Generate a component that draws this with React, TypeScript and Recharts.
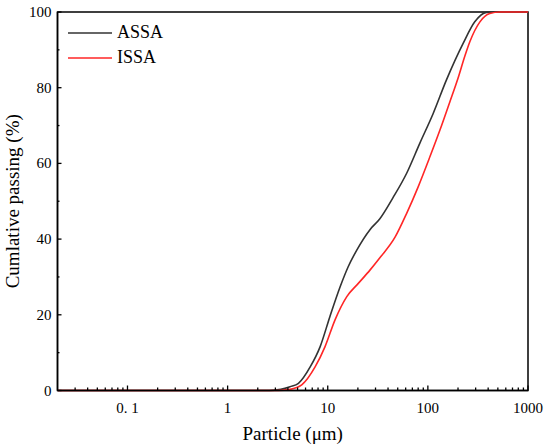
import { Legend, Line, LineChart, ReferenceArea, XAxis, YAxis } from "recharts";

// particle size distribution
const assaSize = [0.02, 2.6, 3.4, 4.2, 5.1, 6.7, 8.4, 10.5, 13.3, 16, 19.5, 26.4, 33, 45, 61.4, 83, 113, 153, 225, 294, 385, 450, 1000];
const assaPassing = [0, 0, 0.3, 1, 1.9, 6.3, 11.6, 19.5, 27.4, 32.7, 37.1, 42.5, 45.3, 51, 57.4, 65.3, 73.2, 82, 91.7, 97.4, 99.9, 100, 100];

const issaSize = [0.02, 3.2, 4.2, 5.5, 7.5, 9.4, 11.8, 15.5, 20.2, 26.4, 33, 47, 61.4, 80, 105, 132, 166, 200, 235, 263, 331, 415, 525, 1000];
const issaPassing = [0, 0, 0.3, 1.5, 6.3, 11.6, 18.6, 24.8, 28.3, 31.8, 35, 40.5, 46.8, 53.8, 61.8, 68.8, 76.3, 82.5, 88.5, 92.2, 97.4, 99.6, 100, 100];

const xMajorTicks = [0.1, 1, 10, 100, 1000];
const xMinorTicks = [
  0.03, 0.04, 0.05, 0.06, 0.07, 0.08, 0.09,
  0.2, 0.3, 0.4, 0.5, 0.6, 0.7, 0.8, 0.9,
  2, 3, 4, 5, 6, 7, 8, 9,
  20, 30, 40, 50, 60, 70, 80, 90,
  200, 300, 400, 500, 600, 700, 800, 900
];
const yMajorTicks = [0, 20, 40, 60, 80, 100];
const yMinorTicks = [10, 30, 50, 70, 90];

const FONT = "'Liberation Serif', 'Times New Roman', serif";

const toPoints = (sizes: number[], values: number[]) =>
  sizes.map((size, i) => ({ size, value: values[i] }));

const assaData = toPoints(assaSize, assaPassing);
const issaData = toPoints(issaSize, issaPassing);

const series = [
  { name: "ASSA", color: "#333333" },
  { name: "ISSA", color: "#ff2626" }
];

// x ticks point up into the plot; only decades get a label ("0. 1" as in the original)
function XTick(props: any) {
  const { x, y, payload } = props;
  const major = xMajorTicks.includes(payload.value);
  const text = payload.value === 0.1 ? "0. 1" : String(payload.value);
  return (
    <g>
      <line x1={x} x2={x} y1={y} y2={y - (major ? 5 : 3)} stroke="#000" strokeWidth={1.3} />
      {major && (
        <text x={x} y={y + 22} textAnchor="middle" fontSize={15} style={{ fontFamily: FONT }} fill="#000">
          {text}
        </text>
      )}
    </g>
  );
}

function YTick(props: any) {
  const { x, y, payload } = props;
  const major = yMajorTicks.includes(payload.value);
  return (
    <g>
      <line x1={x} x2={x + (major ? 4 : 2)} y1={y} y2={y} stroke="#000" strokeWidth={1.3} />
      {major && (
        <text x={x - 6} y={y + 5} textAnchor="end" fontSize={15} style={{ fontFamily: FONT }} fill="#000">
          {payload.value}
        </text>
      )}
    </g>
  );
}

function LegendBox() {
  return (
    <div style={{ fontFamily: FONT, fontSize: 18, color: "#000" }}>
      {series.map((s) => (
        <div key={s.name} style={{ display: "flex", alignItems: "center", height: 25 }}>
          <svg width={44} height={4} style={{ marginRight: 5 }}>
            <line x1={0} x2={44} y1={2} y2={2} stroke={s.color} strokeWidth={1.6} />
          </svg>
          <span>{s.name}</span>
        </div>
      ))}
    </div>
  );
}

export default function App() {
  return (
    <div style={{ position: "absolute", left: 0, top: 0, background: "#fff", fontFamily: FONT }}>
      <LineChart width={550} height={446} margin={{ top: 12, right: 22, left: 0, bottom: 5 }}>
        <ReferenceArea
          x1={0.02}
          x2={1000}
          y1={0}
          y2={100}
          fill="none"
          stroke="#000"
          strokeWidth={1.5}
          fillOpacity={0}
        />
        <XAxis
          dataKey="size"
          type="number"
          scale="log"
          domain={[0.02, 1000]}
          allowDataOverflow
          ticks={[...xMajorTicks, ...xMinorTicks]}
          interval={0}
          tick={<XTick />}
          tickLine={false}
          tickSize={0}
          tickMargin={0}
          axisLine={{ stroke: "#000", strokeWidth: 1.5 }}
          height={50.5}
          label={{
            value: "Particle (\u03bcm)",
            position: "insideBottom",
            offset: 1,
            style: { fontFamily: FONT, fontSize: 19, fill: "#000" }
          }}
        />
        <YAxis
          type="number"
          domain={[0, 100]}
          ticks={[...yMajorTicks, ...yMinorTicks]}
          interval={0}
          tick={<YTick />}
          tickLine={false}
          tickSize={0}
          tickMargin={0}
          axisLine={{ stroke: "#000", strokeWidth: 1.5 }}
          width={57.5}
          label={{
            value: "Cumlative passing (%)",
            angle: -90,
            position: "insideLeft",
            offset: 12,
            style: { fontFamily: FONT, fontSize: 19, fill: "#000", textAnchor: "middle" }
          }}
        />
        <Legend
          layout="vertical"
          align="center"
          verticalAlign="middle"
          content={<LegendBox />}
          wrapperStyle={{ top: 20, left: 68, width: "auto" }}
        />
        <Line
          data={assaData}
          dataKey="value"
          name="ASSA"
          type="monotone"
          stroke={series[0].color}
          strokeWidth={1.6}
          dot={false}
          isAnimationActive={false}
        />
        <Line
          data={issaData}
          dataKey="value"
          name="ISSA"
          type="monotone"
          stroke={series[1].color}
          strokeWidth={1.6}
          dot={false}
          isAnimationActive={false}
        />
      </LineChart>
    </div>
  );
}
